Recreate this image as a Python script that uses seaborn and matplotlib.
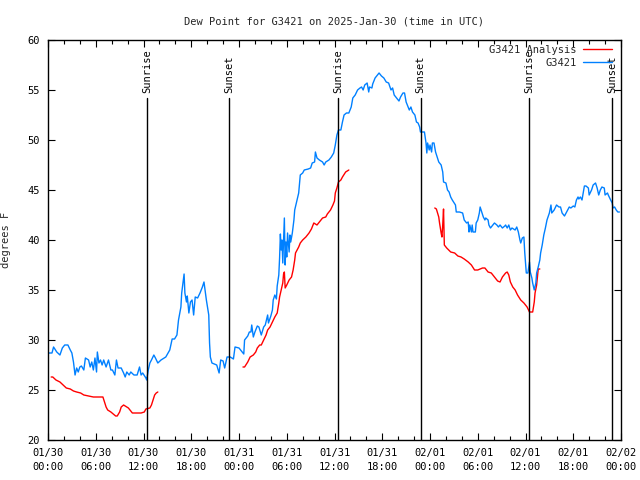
import matplotlib
matplotlib.use('Agg')
import matplotlib.pyplot as plt
import matplotlib.dates as mdates
import seaborn as sns
import pandas as pd
import numpy as np

# hours after 2025-01-30 00:00 UTC
obs_hours = [
    0.0, 0.5, 0.7, 1.1, 1.5, 1.8, 2.1, 2.5, 2.8, 3.0, 3.2, 3.4, 3.6, 3.8, 4.0, 4.2, 4.5, 4.7, 5.1, 5.3,
    5.5, 5.7, 5.9, 6.1, 6.2, 6.4, 6.6, 6.8, 7.0, 7.3, 7.6, 7.9, 8.1, 8.4, 8.6, 8.8, 9.2, 9.5, 9.7, 9.9,
    10.2, 10.4, 10.8, 11.2, 11.5, 11.7, 11.9, 12.3, 12.4, 12.6, 12.8, 13.0, 13.3, 13.5, 13.8, 14.2, 14.8, 15.3, 15.6, 15.9,
    16.2, 16.4, 16.7, 16.8, 17.1, 17.2, 17.4, 17.5, 17.7, 17.9, 18.1, 18.3, 18.5, 18.8, 19.1, 19.4, 19.6, 19.7, 19.9, 20.2,
    20.3, 20.4, 20.6, 20.9, 21.2, 21.5, 21.7, 22.0, 22.2, 22.5, 22.9, 23.3, 23.5, 24.0, 24.4, 24.6, 24.7, 25.1, 25.3, 25.5,
    25.6, 25.8, 26.0, 26.3, 26.5, 26.8, 27.1, 27.3, 27.6, 27.7, 28.0, 28.2, 28.3, 28.5, 28.7, 28.8, 29.0, 29.1, 29.2, 29.3,
    29.4, 29.5, 29.6, 29.7, 29.8, 29.9, 30.0, 30.1, 30.3, 30.4, 30.5, 30.7, 30.9, 31.0, 31.3, 31.5, 31.7, 32.0, 32.2, 32.7,
    33.0, 33.2, 33.5, 33.6, 33.8, 34.1, 34.5, 34.7, 34.9, 35.3, 35.6, 35.9, 36.1, 36.3, 36.5, 36.8, 37.0, 37.2, 37.5, 37.8,
    38.1, 38.3, 38.6, 38.9, 39.2, 39.4, 39.6, 39.8, 40.1, 40.3, 40.4, 40.7, 40.8, 41.1, 41.4, 41.6, 41.9, 42.2, 42.5, 42.8,
    43.1, 43.3, 43.5, 43.8, 44.1, 44.3, 44.6, 44.8, 45.0, 45.2, 45.4, 45.6, 45.8, 46.1, 46.3, 46.5, 46.7, 46.8, 47.0, 47.3,
    47.5, 47.6, 47.7, 47.9, 48.0, 48.2, 48.3, 48.5, 48.7, 48.9, 49.1, 49.4, 49.6, 49.7, 50.0, 50.2, 50.4, 50.6, 50.8, 51.2,
    51.3, 51.7, 52.1, 52.3, 52.6, 52.8, 52.9, 53.0, 53.2, 53.3, 53.4, 53.7, 53.8, 54.0, 54.2, 54.3, 54.5, 54.7, 54.9, 55.0,
    55.3, 55.4, 55.6, 55.8, 56.1, 56.4, 56.6, 56.8, 57.1, 57.4, 57.5, 57.7, 57.9, 58.1, 58.3, 58.7, 58.9, 59.1, 59.3, 59.4,
    59.6, 59.8, 59.9, 60.0, 60.1, 60.3, 60.5, 60.6, 60.8, 60.9, 61.1, 61.3, 61.4, 61.6, 61.8, 61.9, 62.1, 62.3, 62.5, 62.7,
    63.0, 63.2, 63.3, 63.6, 63.9, 64.2, 64.4, 64.6, 64.9, 65.1, 65.3, 65.5, 65.7, 66.0, 66.2, 66.4, 66.6, 66.7, 66.9, 67.1,
    67.4, 67.6, 67.9, 68.0, 68.3, 68.5, 68.8, 69.0, 69.2, 69.4, 69.6, 69.9, 70.0, 70.3, 70.4, 70.7, 70.9, 71.0, 71.2, 71.4,
    71.6, 71.8,
]
obs_dewpt = [
    28.7, 28.7, 29.3, 28.8, 28.5, 29.2, 29.5, 29.5, 29.0, 28.7, 27.8, 26.5, 27.2, 26.8, 27.3, 27.4, 27.0, 28.2, 28.0, 27.3,
    27.8, 27.0, 28.2, 26.8, 28.8, 27.7, 28.0, 27.5, 28.0, 27.3, 28.0, 27.0, 27.0, 26.5, 28.0, 27.2, 27.2, 26.7, 26.3, 26.8,
    26.5, 26.8, 26.5, 26.5, 27.3, 26.5, 26.7, 26.2, 26.0, 27.0, 27.7, 28.0, 28.5, 28.2, 27.7, 28.0, 28.3, 29.0, 30.1, 30.1,
    30.5, 32.0, 33.3, 34.7, 36.6, 34.7, 33.8, 34.4, 32.7, 33.8, 34.0, 32.5, 34.3, 34.2, 34.7, 35.3, 35.8, 35.2, 34.0, 32.5,
    29.7, 28.3, 27.7, 27.6, 27.5, 26.7, 28.0, 27.9, 27.2, 28.3, 28.3, 28.1, 29.3, 29.2, 28.8, 28.6, 30.0, 30.4, 30.8, 30.8,
    31.5, 30.3, 30.8, 31.4, 31.3, 30.5, 31.3, 31.5, 32.5, 31.7, 32.4, 33.0, 34.0, 34.5, 34.1, 35.4, 36.5, 38.2, 40.6, 39.0,
    40.0, 37.7, 40.1, 42.2, 37.5, 39.8, 38.3, 40.7, 38.8, 40.5, 39.8, 40.7, 42.0, 43.0, 44.0, 44.7, 46.5, 46.7, 47.0, 47.1,
    47.2, 47.7, 47.8, 48.8, 48.2, 48.0, 47.8, 47.5, 47.8, 48.0, 48.3, 48.7, 49.5, 50.5, 51.0, 51.0, 51.8, 52.5, 52.7, 52.7,
    53.3, 54.2, 54.5, 55.0, 55.2, 55.3, 55.0, 55.5, 55.7, 54.8, 55.3, 55.2, 55.6, 56.2, 56.5, 56.7, 56.4, 56.2, 55.8, 55.7,
    55.0, 55.2, 54.5, 54.2, 53.9, 54.3, 54.7, 54.7, 53.8, 53.4, 53.0, 53.3, 52.8, 52.5, 51.8, 51.7, 51.3, 50.8, 50.8, 50.8,
    49.7, 48.7, 49.7, 49.0, 49.5, 48.8, 49.7, 49.7, 48.8, 48.3, 47.8, 47.5, 46.8, 45.8, 45.7, 45.0, 44.8, 44.3, 44.0, 43.5,
    42.8, 42.8, 42.7, 42.0, 41.7, 41.8, 40.8, 41.5, 40.8, 41.5, 40.8, 40.8, 41.7, 42.0, 42.7, 43.3, 42.8, 42.3, 42.0, 42.2,
    42.0, 41.5, 41.2, 41.4, 41.7, 41.5, 41.3, 41.5, 41.2, 41.4, 41.5, 41.2, 41.5, 41.0, 41.2, 41.0, 41.3, 40.8, 40.0, 39.7,
    40.2, 40.3, 38.8, 37.7, 36.7, 36.7, 37.8, 36.8, 36.2, 35.7, 35.0, 35.7, 36.7, 37.3, 38.0, 38.7, 39.5, 40.5, 41.2, 42.0,
    42.7, 43.5, 42.7, 43.0, 43.5, 43.3, 43.3, 42.7, 42.4, 42.7, 43.0, 43.3, 43.2, 43.4, 43.3, 44.0, 44.3, 44.1, 44.3, 44.0,
    45.4, 45.4, 45.2, 44.5, 45.0, 45.5, 45.7, 45.2, 44.5, 45.0, 45.3, 45.2, 44.5, 44.7, 44.5, 44.0, 43.7, 43.2, 43.3, 43.0,
    42.8, 42.8,
]

# analysis runs (three separate pieces)
ana1_hours = [0.4, 0.6, 1.0, 1.5, 1.9, 2.3, 2.8, 3.2, 3.6, 4.1, 4.5, 5.1, 5.7, 6.4, 6.9, 7.1, 7.3, 7.5, 7.9, 8.2,
              8.5, 8.7, 9.0, 9.2, 9.5, 9.7, 10.1, 10.6, 11.1, 11.7, 12.1, 12.3, 12.8, 13.0, 13.2, 13.4, 13.6, 13.8]
ana1_dewpt = [26.3, 26.3, 26.0, 25.8, 25.5, 25.2, 25.1, 24.9, 24.8, 24.7, 24.5, 24.4, 24.3, 24.3, 24.3, 23.8, 23.3, 23.0, 22.8, 22.6,
              22.4, 22.4, 22.8, 23.3, 23.5, 23.4, 23.2, 22.7, 22.7, 22.7, 22.8, 23.1, 23.2, 23.5, 24.0, 24.5, 24.7, 24.8]
ana2_hours = [24.5, 24.7, 25.1, 25.4, 25.8, 26.1, 26.3, 26.6, 26.8, 27.1, 27.4, 27.6, 27.9, 28.2, 28.5, 28.8, 29.0, 29.1, 29.3, 29.5,
              29.6, 29.7, 29.8, 30.0, 30.3, 30.6, 30.8, 31.0, 31.1, 31.5, 31.7, 32.0, 32.4, 32.8, 33.1, 33.4, 33.8, 34.2, 34.5, 34.9,
              35.1, 35.5, 35.8, 36.0, 36.1, 36.3, 36.5, 36.8, 37.0, 37.4, 37.8]
ana2_dewpt = [27.3, 27.3, 27.8, 28.3, 28.5, 28.8, 29.2, 29.5, 29.5, 30.0, 30.5, 31.0, 31.3, 31.8, 32.3, 32.7, 33.7, 34.3, 35.0, 35.7,
              36.6, 36.8, 35.2, 35.5, 36.0, 36.3, 37.0, 38.0, 38.7, 39.3, 39.7, 40.0, 40.3, 40.7, 41.1, 41.7, 41.5, 41.9, 42.2, 42.3,
              42.6, 43.0, 43.5, 43.9, 44.7, 45.2, 45.8, 46.0, 46.3, 46.8, 47.0]
ana3_hours = [48.6, 48.8, 49.1, 49.2, 49.4, 49.5, 49.6, 49.7, 49.8, 50.1, 50.6, 51.1, 51.5, 51.9, 52.3, 52.8, 53.2, 53.6, 54.0, 54.6,
              54.9, 55.3, 55.7, 56.1, 56.5, 56.8, 57.1, 57.5, 57.7, 57.9, 58.1, 58.4, 58.7, 59.0, 59.4, 59.8, 60.2, 60.5, 60.9, 61.1,
              61.2, 61.4, 61.5, 61.6, 61.8]
ana3_dewpt = [43.2, 43.1, 42.3, 41.7, 40.7, 40.3, 41.5, 43.1, 39.5, 39.2, 38.8, 38.7, 38.4, 38.3, 38.1, 37.8, 37.5, 37.0, 37.0, 37.2,
              37.2, 36.8, 36.7, 36.3, 35.9, 35.8, 36.3, 36.7, 36.8, 36.5, 35.8, 35.3, 35.0, 34.5, 34.0, 33.7, 33.3, 32.8, 32.8, 33.8,
              34.7, 35.5, 36.3, 37.1, 37.1]

sun_hours = [12.46, 22.75, 36.42, 46.83, 60.5, 70.9]
sun_labels = ["Sunrise", "Sunset", "Sunrise", "Sunset", "Sunrise", "Sunset"]

start = pd.Timestamp("2025-01-30 00:00")


def to_time(hours):
    return start + pd.to_timedelta(np.array(hours), unit="h")


obs = pd.DataFrame({"time": to_time(obs_hours), "dewpt": obs_dewpt})
ana_runs = [
    pd.DataFrame({"time": to_time(h), "dewpt": v})
    for h, v in [(ana1_hours, ana1_dewpt), (ana2_hours, ana2_dewpt), (ana3_hours, ana3_dewpt)]
]

sns.set_theme(style="ticks")
plt.rcParams["font.family"] = ["DejaVu Sans Mono", "DejaVu Sans"]
plt.rcParams["font.size"] = 7.5

fig = plt.figure(figsize=(6.4, 4.8), dpi=100)
ax = fig.add_axes([48 / 640, 40 / 480, 573 / 640, 400 / 480])

for i, run in enumerate(ana_runs):
    sns.lineplot(data=run, x="time", y="dewpt", estimator=None, sort=False,
                 color="#ff0000", linewidth=1.0, ax=ax,
                 label="G3421 Analysis" if i == 0 else "_nolegend_")
sns.lineplot(data=obs, x="time", y="dewpt", estimator=None, sort=False,
             color="#0080ff", linewidth=1.0, ax=ax, label="G3421")

for h, lab in zip(sun_hours, sun_labels):
    t = start + pd.Timedelta(hours=h)
    ax.plot([t, t], [20, 54.2], color="black", linewidth=1.0)
    ax.text(t, 54.7, lab, rotation=90, ha="center", va="bottom", fontsize=7.5, color="black")

ax.set_xlim(start, start + pd.Timedelta(hours=72))
ax.set_ylim(20, 60)
ax.set_yticks(range(20, 61, 5))
ax.xaxis.set_major_locator(mdates.HourLocator(byhour=[0, 6, 12, 18]))
ax.xaxis.set_minor_locator(mdates.HourLocator(interval=2))
ax.xaxis.set_major_formatter(mdates.DateFormatter("%m/%d\n%H:%M"))

ax.tick_params(axis="both", which="both", direction="in", top=True, right=True, colors="black")
ax.tick_params(axis="both", which="major", length=5, width=0.8, labelsize=7.5, pad=6)
ax.tick_params(axis="x", which="minor", length=3, width=0.8)
for lab in ax.get_xticklabels():
    lab.set_linespacing(1.4)
for sp in ax.spines.values():
    sp.set_color("black")
    sp.set_linewidth(1.0)

ax.set_xlabel("")
ax.set_ylabel("degrees F", fontsize=7.5)
ax.yaxis.set_label_coords(-37 / 573, 0.5)
ax.set_title("Dew Point for G3421 on 2025-Jan-30 (time in UTC)", fontsize=7.5, pad=11)

ax.legend(loc="upper right", bbox_to_anchor=((612 - 48) / 573, (440 - 45) / 400), frameon=False,
          markerfirst=False, borderaxespad=0, borderpad=0, handlelength=2.8, handletextpad=0.6,
          labelspacing=0.25, fontsize=7.5)

plt.savefig("out.png", dpi=100)
plt.close()
